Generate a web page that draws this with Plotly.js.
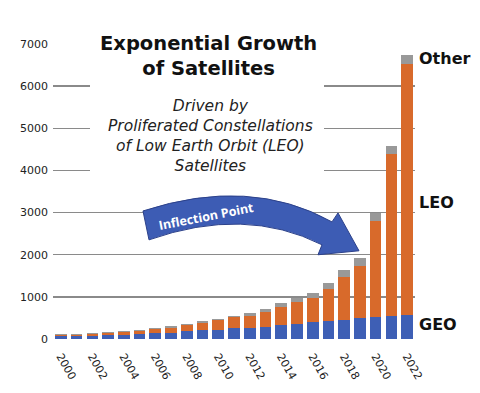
<!DOCTYPE html>
<html>
<head>
<meta charset="utf-8">
<script src="https://cdn.plot.ly/plotly-3.0.1.min.js"></script>
<style>html,body{margin:0;padding:0;background:#fff;}#chart{width:480px;height:393px;}</style>
</head>
<body>
<div id="chart"></div>
<script>
const years = [2000,2001,2002,2003,2004,2005,2006,2007,2008,2009,2010,2011,2012,2013,2014,2015,2016,2017,2018,2019,2020,2021,2022];
const geo   = [63,63,79,95,95,118,142,142,181,205,213,252,267,291,331,355,402,426,449,496,520,544,567];
const leo   = [32,32,51,58,74,82,85,126,142,181,228,260,284,354,426,520,567,756,1017,1230,2270,3853,5965];
const other = [15,15,20,20,20,20,25,39,32,32,40,40,64,71,94,94,118,142,165,196,210,189,206];
const tickYears = [2000,2002,2004,2006,2008,2010,2012,2014,2016,2018,2020,2022];
const yTicks = [0,1000,2000,3000,4000,5000,6000,7000];
const subtitleLines = ['Driven by', 'Proliferated Constellations', 'of Low Earth Orbit (LEO)', 'Satellites'];

const W = 480, H = 393;
const mL = 53, mR = 65, mT = 43.5, mB = 53.5;
const pw = W - mL - mR, ph = H - mT - mB;
const px = x => (x - mL) / pw;
const py = y => (H - mB - y) / ph;

function pathPx(cmds) {
  return cmds.map(c => {
    if (typeof c === 'string') return c;
    return px(c[0]).toFixed(4) + ',' + py(c[1]).toFixed(4);
  }).join(' ');
}

const arrowPath = pathPx(['M', [143,211], 'Q', [250,176], [332,222], 'L', [338,213], 'L', [359,251], 'L', [318,255], 'L', [322,245], 'Q', [245,206], [149,240], 'Z']);

const traces = [
  {type:'bar', x:years, y:geo, name:'GEO', marker:{color:'#3e5fb5'}},
  {type:'bar', x:years, y:leo, name:'LEO', marker:{color:'#d86a2b'}},
  {type:'bar', x:years, y:other, name:'Other', marker:{color:'#999999'}}
];

const labelFont = {family:'"DejaVu Sans", sans-serif', size:16, color:'#111'};

const annotations = [
  {xref:'paper', yref:'paper', x:px(208), y:py(56), text:'<b>Exponential Growth<br>of Satellites</b>', showarrow:false,
   font:{family:'"DejaVu Sans", sans-serif', size:19.5, color:'#111'}, align:'center', xanchor:'center', yanchor:'middle'},
  {xref:'paper', yref:'paper', x:px(210), y:py(136), text:'<i>' + subtitleLines.join('<br>') + '</i>', showarrow:false,
   font:{family:'"DejaVu Sans", sans-serif', size:15.5, color:'#222'}, align:'center', xanchor:'center', yanchor:'middle'},
  {xref:'paper', yref:'paper', x:px(206), y:py(217), text:'<b>Inflection Point</b>', showarrow:false, textangle:-11,
   font:{family:'"Open Sans", sans-serif', size:12.5, color:'#fff'}, xanchor:'center', yanchor:'middle'},
  {xref:'paper', yref:'paper', x:px(417), y:py(58), text:'<b>Other</b>', showarrow:false, xanchor:'left', yanchor:'middle', font:labelFont},
  {xref:'paper', yref:'paper', x:px(417), y:py(203), text:'<b>LEO</b>', showarrow:false, xanchor:'left', yanchor:'middle', font:labelFont},
  {xref:'paper', yref:'paper', x:px(417), y:py(325), text:'<b>GEO</b>', showarrow:false, xanchor:'left', yanchor:'middle', font:labelFont}
];

const layout = {
  width: W, height: H,
  margin: {l: mL, r: mR, t: mT, b: mB, pad: 0},
  paper_bgcolor: '#fff', plot_bgcolor: '#fff',
  barmode: 'stack', bargap: 0.26,
  showlegend: false,
  font: {family: '"DejaVu Sans", sans-serif', color: '#222'},
  xaxis: {
    range: [1999.5, 2022.5], tickvals: tickYears, ticktext: tickYears.map(String),
    tickangle: 60, showgrid: false, zeroline: false, showline: false, ticks: '',
    tickfont: {size: 11, color: '#222'}, ticklabelstandoff: 8
  },
  yaxis: {
    range: [0, 7000], tickvals: yTicks, ticktext: yTicks.map(String),
    showgrid: true, gridcolor: '#8a8a8a', gridwidth: 1.3, zeroline: false, showline: false, ticks: '',
    tickfont: {size: 11, color: '#222'}, ticklabelstandoff: 4
  },
  shapes: [
    {type:'rect', xref:'paper', yref:'paper', x0:px(90), x1:px(324), y0:py(182), y1:py(30), fillcolor:'#fff', line:{width:0}, layer:'above'},
    {type:'path', xref:'paper', yref:'paper', path: arrowPath, fillcolor:'#3d5cb4', line:{color:'#2c418a', width:1}, layer:'above'}
  ],
  annotations: annotations
};

Plotly.newPlot('chart', traces, layout, {staticPlot: true, displayModeBar: false});
</script>
</body>
</html>
